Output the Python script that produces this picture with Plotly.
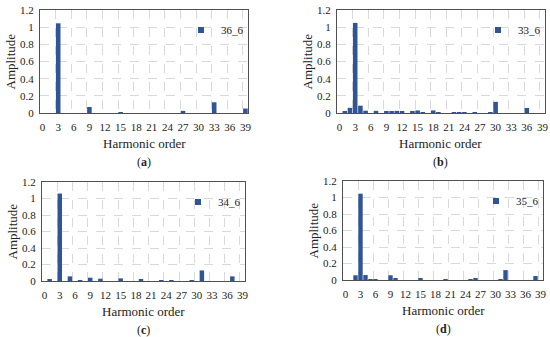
import plotly.graph_objects as go

harmonics = list(range(40))
tick_labels = [str(v) for v in range(0, 40, 3)]

amp_36_6 = [0, 0, 0, 1.045, 0, 0, 0, 0, 0, 0.07,
            0, 0, 0, 0, 0, 0.005, 0, 0, 0, 0,
            0, 0, 0, 0, 0, 0, 0, 0.025, 0, 0,
            0, 0, 0, 0.125, 0, 0, 0, 0, 0, 0.052]
amp_33_6 = [0, 0.015, 0.06, 1.05, 0.085, 0.027, 0, 0.025, 0, 0.02,
            0.018, 0.025, 0.015, 0, 0.015, 0.03, 0.01, 0, 0.03, 0.01,
            0, 0, 0.008, 0.008, 0.008, 0, 0.006, 0, 0, 0.006,
            0.13, 0, 0, 0, 0, 0, 0.058, 0, 0, 0]
amp_34_6 = [0, 0.024, 0, 1.06, 0, 0.056, 0, 0.012, 0, 0.04,
            0, 0.028, 0, 0, 0, 0.032, 0, 0, 0, 0.024,
            0, 0, 0, 0.012, 0, 0.012, 0, 0, 0, 0.01,
            0, 0.128, 0, 0, 0, 0, 0, 0.056, 0, 0]
amp_35_6 = [0, 0, 0.057, 1.046, 0.06, 0.008, 0.008, 0, 0, 0.057,
            0.016, 0, 0, 0, 0, 0.02, 0, 0, 0, 0,
            0.012, 0, 0, 0, 0, 0.008, 0.02, 0, 0, 0,
            0, 0.008, 0.12, 0, 0, 0, 0, 0, 0.048, 0]

series = [("36_6", amp_36_6), ("33_6", amp_33_6), ("34_6", amp_34_6), ("35_6", amp_35_6)]
captions = ["a", "b", "c", "d"]

W, H = 550, 337
# plot areas in pixels: (left, right, top, bottom)
boxes = [(40, 248, 10, 113), (337, 545, 10, 113), (42, 245, 182, 281), (343, 543, 181, 280)]

FONT = "Liberation Serif, Times New Roman, Tinos, serif"
BAR = "#2F5597"
GRID = "#D9D9D9"

fig = go.Figure()
layout = dict(width=W, height=H, margin=dict(l=0, r=0, t=0, b=0, autoexpand=False),
              paper_bgcolor="white", plot_bgcolor="white",
              font=dict(family=FONT, size=11, color="#222222"),
              bargap=0.12, annotations=[])

for i, ((name, vals), (l, r, t, b)) in enumerate(zip(series, boxes)):
    n = "" if i == 0 else str(i + 1)
    lg = "legend" if i == 0 else f"legend{i + 1}"
    fig.add_trace(go.Bar(x=harmonics, y=vals, name=name, marker=dict(color=BAR, line=dict(width=0)),
                         xaxis="x" + n, yaxis="y" + n, showlegend=False))
    # legend entry (small square key like the reference)
    fig.add_trace(go.Scatter(x=[None], y=[None], mode="markers", name=name,
                             marker=dict(symbol="square", size=6, color=BAR),
                             xaxis="x" + n, yaxis="y" + n, legend=lg, showlegend=True))
    xd = [l / W, r / W]
    yd = [1 - b / H, 1 - t / H]
    layout["xaxis" + n] = dict(domain=xd, anchor="y" + n, range=[-0.5, 39.5],
                               tickmode="array", tickvals=list(range(0, 40, 3)), ticktext=tick_labels,
                               showgrid=False, showline=True, mirror=True, linecolor="#505050", linewidth=1,
                               ticks="outside", ticklen=4, tickcolor="rgba(0,0,0,0)",
                               tickfont=dict(size=11, family=FONT),
                               minor=dict(tickvals=[k + 2.5 for k in range(0, 37, 3)], showgrid=True,
                                          gridcolor=GRID, griddash="dash", gridwidth=1),
                               zeroline=False, fixedrange=True)
    layout["yaxis" + n] = dict(domain=yd, anchor="x" + n, range=[0, 1.2],
                               tickvals=[0, 0.2, 0.4, 0.6, 0.8, 1.0, 1.2],
                               ticktext=["0", "0.2", "0.4", "0.6", "0.8", "1", "1.2"],
                               showgrid=True, gridcolor=GRID, griddash="dash", gridwidth=1,
                               showline=True, mirror=True, linecolor="#505050", linewidth=1,
                               ticks="outside", ticklen=3, tickcolor="rgba(0,0,0,0)",
                               tickfont=dict(size=11, family=FONT), zeroline=False, fixedrange=True)
    layout[lg] = dict(x=(r - 67) / W, y=1 - (t + 20) / H, xanchor="left", yanchor="middle",
                      bgcolor="rgba(0,0,0,0)", font=dict(size=11, family=FONT),
                      itemwidth=30, tracegroupgap=0)
    cx = (l + r) / 2
    layout["annotations"] += [
        dict(text="Harmonic order", x=cx / W, y=1 - (b + 30) / H, xref="paper", yref="paper",
             showarrow=False, font=dict(size=13, family=FONT), xanchor="center", yanchor="middle"),
        dict(text=f"(<b>{captions[i]}</b>)", x=cx / W, y=1 - (b + 49) / H, xref="paper", yref="paper",
             showarrow=False, font=dict(size=12, family=FONT), xanchor="center", yanchor="middle"),
        dict(text="Amplitude", x=(l - 30) / W, y=1 - ((t + b) / 2) / H, xref="paper", yref="paper",
             showarrow=False, textangle=-90, font=dict(size=13, family=FONT),
             xanchor="center", yanchor="middle"),
    ]

fig.update_layout(**layout)
fig.write_html("out.html", config={"displayModeBar": False},
               post_script="document.body.style.margin='0';document.body.style.overflow='hidden';")
